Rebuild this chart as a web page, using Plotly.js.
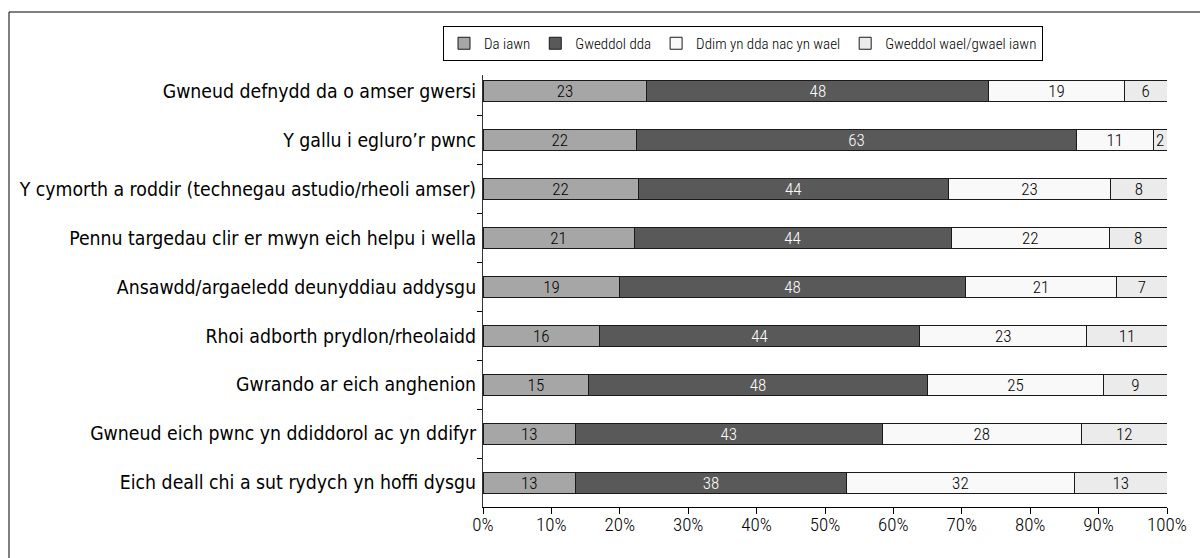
<!DOCTYPE html>
<html>
<head>
<meta charset="utf-8">
<script src="https://cdn.plot.ly/plotly-3.0.1.min.js"></script>
<style>
html,body{margin:0;padding:0;background:#fff;}
#chart{width:1200px;height:558px;}
</style>
</head>
<body>
<div id="chart"></div>
<script>
const categories = [
  "Gwneud defnydd da o amser gwersi",
  "Y gallu i egluro’r pwnc",
  "Y cymorth a roddir (technegau astudio/rheoli amser)",
  "Pennu targedau clir er mwyn eich helpu i wella",
  "Ansawdd/argaeledd deunyddiau addysgu",
  "Rhoi adborth prydlon/rheolaidd",
  "Gwrando ar eich anghenion",
  "Gwneud eich pwnc yn ddiddorol ac yn ddifyr",
  "Eich deall chi a sut rydych yn hoffi dysgu"
];
const seriesNames = ["Da iawn", "Gweddol dda", "Ddim yn dda nac yn wael", "Gweddol wael/gwael iawn"];
const daIawn      = [23, 22, 22, 21, 19, 16, 15, 13, 13];
const gweddolDda  = [48, 63, 44, 44, 48, 44, 48, 43, 38];
const ddimYnDda   = [19, 11, 23, 22, 21, 23, 25, 28, 32];
const gweddolWael = [6, 2, 8, 8, 7, 11, 9, 12, 13];
const xTickVals = [0, 10, 20, 30, 40, 50, 60, 70, 80, 90, 100];

const seriesValues = [daIawn, gweddolDda, ddimYnDda, gweddolWael];
const colors = ["#a6a6a6", "#595959", "#f9f9f9", "#ebebeb"];
const textColors = ["#000", "#fff", "#000", "#000"];
const narrow = "'Roboto Condensed', 'DejaVu Sans Condensed', sans-serif";
const labelFont = "'DejaVu Sans Condensed', 'DejaVu Sans', sans-serif";

const traces = seriesValues.map((vals, i) => ({
  type: "bar",
  orientation: "h",
  name: seriesNames[i],
  y: categories,
  x: vals,
  text: vals.map(String),
  textposition: "inside",
  insidetextanchor: "middle",
  textangle: 0,
  constraintext: "none",
  textfont: {family: narrow, size: 17, weight: 350, color: textColors[i]},
  marker: {color: colors[i], line: {color: "#1a1a1a", width: 1}},
  hoverinfo: "skip"
}));

const plotL = 483, plotR = 1167, plotT = 75, plotB = 507;
const pw = plotR - plotL, ph = plotB - plotT;
const px = v => (v - plotL) / pw;
const py = v => (plotB - v) / ph;

const layout = {
  width: 1200,
  height: 558,
  margin: {l: plotL, r: 1200 - plotR, t: plotT, b: 558 - plotB, pad: 0},
  paper_bgcolor: "#fff",
  plot_bgcolor: "#fff",
  barmode: "stack",
  barnorm: "percent",
  bargap: 0.57,
  showlegend: true,
  legend: {
    orientation: "h",
    x: px(743), xanchor: "center",
    y: py(26), yanchor: "top",
    bordercolor: "#000", borderwidth: 1,
    bgcolor: "#fff",
    font: {family: narrow, size: 15, weight: 350, color: "#000"},
    traceorder: "normal",
    itemwidth: 30,
    tracegroupgap: 0
  },
  xaxis: {
    range: [0, 100],
    tickvals: xTickVals,
    ticktext: xTickVals.map(v => v + "%"),
    ticks: "outside", ticklen: 6, tickcolor: "#000",
    showline: true, linecolor: "#000", linewidth: 1,
    showgrid: false, zeroline: false,
    tickfont: {family: narrow, size: 19, weight: 350, color: "#000"},
    ticklabelstandoff: -6,
    fixedrange: true
  },
  yaxis: {
    type: "category",
    range: [8.5, -0.333],
    ticks: "outside", ticklen: 5, tickcolor: "#000",
    tickson: "boundaries",
    showline: true, linecolor: "#333", linewidth: 1,
    showgrid: false, zeroline: false,
    tickfont: {family: labelFont, size: 19.3, color: "#000"},
    ticklabelstandoff: 2,
    fixedrange: true
  },
  shapes: [{
    type: "rect", xref: "paper", yref: "paper",
    x0: px(9), x1: px(1210), y0: py(570), y1: py(12),
    line: {color: "#000", width: 1}, fillcolor: "rgba(0,0,0,0)", layer: "below"
  }]
};

Plotly.newPlot("chart", traces, layout, {displayModeBar: false, staticPlot: true});
</script>
</body>
</html>
